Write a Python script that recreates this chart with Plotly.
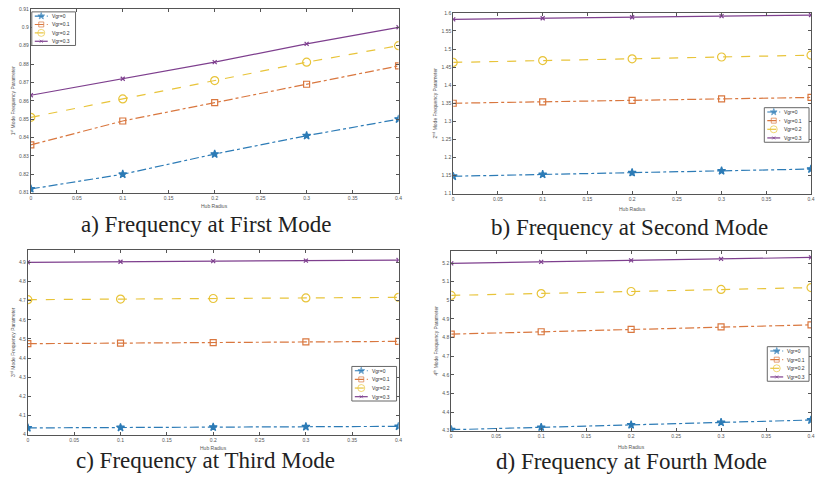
import plotly.graph_objects as go

hub_radius = [0, 0.1, 0.2, 0.3, 0.4]
series_names = ["Vgr=0", "Vgr=0.1", "Vgr=0.2", "Vgr=0.3"]

mode1 = [
    [0.812, 0.820, 0.831, 0.841, 0.850],
    [0.836, 0.849, 0.859, 0.869, 0.879],
    [0.851, 0.861, 0.871, 0.881, 0.890],
    [0.863, 0.872, 0.881, 0.891, 0.900],
]
mode2 = [
    [1.148, 1.153, 1.158, 1.163, 1.168],
    [1.350, 1.354, 1.358, 1.362, 1.366],
    [1.463, 1.468, 1.473, 1.478, 1.483],
    [1.582, 1.585, 1.588, 1.591, 1.594],
]
mode3 = [
    [4.035, 4.037, 4.039, 4.041, 4.043],
    [4.475, 4.478, 4.481, 4.484, 4.487],
    [4.705, 4.708, 4.711, 4.714, 4.717],
    [4.900, 4.903, 4.906, 4.909, 4.912],
]
mode4 = [
    [4.305, 4.318, 4.331, 4.344, 4.357],
    [4.818, 4.831, 4.844, 4.857, 4.868],
    [5.026, 5.036, 5.047, 5.058, 5.068],
    [5.198, 5.206, 5.214, 5.222, 5.230],
]
captions = ["a) Frequency at First Mode", "b) Frequency at Second Mode",
            "c) Frequency at Third Mode", "d) Frequency at Fourth Mode"]
y_titles = ["1<sup>st</sup> Mode Frequency Parameter", "2<sup>nd</sup> Mode Frequency Parameter",
            "3<sup>rd</sup> Mode Frequency Parameter", "4<sup>th</sup> Mode Frequency Parameter"]
x_title = "Hub Radius"

colors = ["#2c7bb6", "#d9773f", "#e8c43a", "#7e3f8e"]
dashes = ["dashdot", "dashdot", "dash", "solid"]
symbols = ["star", "square-open", "circle-open", "x-thin-open"]
msizes = [6, 6, 8, 4]

W, H = 818, 485
# panel geometry in pixels: (left, right, top, bottom)
panels = [
    (30, 400, 6, 192),
    (455, 815, 10, 193),
    (27, 400, 250, 437),
    (453, 815, 251, 433),
]
y_ranges = [[0.81, 0.91], [1.1, 1.6], [4.0, 4.965], [4.3, 5.265]]
y_dticks = [0.01, 0.05, 0.1, 0.1]
# legend boxes in pixels: (left, top, right, bottom)
legend_boxes = [(31, 9, 75, 43), (768, 106, 813, 141), (353, 368, 398, 403), (771, 348, 813, 383)]
caption_pos = [(206, 224), (632, 227), (206, 463), (634, 464)]
xtitle_y = [206, 209, 451, 450]

all_modes = [mode1, mode2, mode3, mode4]

fig = go.Figure()
layout = dict(
    width=W, height=H,
    margin=dict(l=0, r=0, t=0, b=0),
    paper_bgcolor="white", plot_bgcolor="rgba(0,0,0,0)",
    font=dict(family="Liberation Sans", size=5, color="#444"),
    showlegend=False,
    annotations=[], shapes=[],
)

for p, mode in enumerate(all_modes):
    idx = "" if p == 0 else str(p + 1)
    xa, ya = "x" + idx, "y" + idx
    for s in range(4):
        fig.add_trace(go.Scatter(
            x=hub_radius, y=mode[s], name=series_names[s],
            xaxis=xa, yaxis=ya,
            mode="lines+markers",
            line=dict(color=colors[s], width=1.2, dash=dashes[s]),
            marker=dict(symbol=symbols[s], size=msizes[s], color=colors[s],
                        line=dict(color=colors[s], width=1.2)),
        ))
    l, r, t, b = panels[p]
    layout["xaxis" + idx] = dict(
        domain=[l / W, r / W], anchor=ya, range=[0, 0.4], dtick=0.05,
        showgrid=False, zeroline=False, showline=True, linecolor="#555",
        linewidth=1, mirror="ticks", ticks="inside", ticklen=3,
        tickcolor="#555", tickfont=dict(size=5, color="#555"),
    )
    layout["yaxis" + idx] = dict(
        domain=[1 - b / H, 1 - t / H], anchor=xa, range=y_ranges[p],
        dtick=y_dticks[p], showgrid=False, zeroline=False, showline=True,
        linecolor="#555", linewidth=1, mirror="ticks", ticks="inside",
        ticklen=3, tickcolor="#555", tickfont=dict(size=5, color="#555"),
        title=dict(text=y_titles[p], font=dict(size=5, color="#555"), standoff=3),
    )
    cx, cy = caption_pos[p]
    layout["annotations"].append(dict(
        text=captions[p], x=cx / W, y=1 - cy / H, xref="paper", yref="paper",
        showarrow=False, xanchor="center", yanchor="middle",
        font=dict(family="Liberation Serif", size=23, color="#222"),
    ))
    layout["annotations"].append(dict(
        text=x_title, x=((l + r) / 2) / W, y=1 - xtitle_y[p] / H,
        xref="paper", yref="paper", showarrow=False,
        xanchor="center", yanchor="middle",
        font=dict(size=5, color="#555"),
    ))

    # compact MATLAB-style legend drawn on a full-figure overlay axis (pixel units)
    bl, bt, br, bb = legend_boxes[p]
    layout["shapes"].append(dict(
        type="rect", xref="x5", yref="y5", x0=bl, x1=br, y0=bt, y1=bb,
        line=dict(color="#666", width=1), fillcolor="white", layer="below",
    ))
    step = (bb - bt) / 4
    for s in range(4):
        yy = bt + step * (s + 0.5)
        x0, x1 = bl + 3, bl + 16
        fig.add_trace(go.Scatter(
            x=[x0, (x0 + x1) / 2, x1], y=[yy, yy, yy], xaxis="x5", yaxis="y5",
            mode="lines+markers", hoverinfo="skip",
            line=dict(color=colors[s], width=1.2, dash=dashes[s]),
            marker=dict(symbol=symbols[s], size=[0, msizes[s] - 1, 0], color=colors[s],
                        line=dict(color=colors[s], width=1)),
        ))
        layout["annotations"].append(dict(
            text=series_names[s], x=x1 + 2, y=yy, xref="x5", yref="y5",
            showarrow=False, xanchor="left", yanchor="middle",
            font=dict(size=5, color="#333"),
        ))

layout["xaxis5"] = dict(domain=[0, 1], range=[0, W], visible=False, anchor="y5", fixedrange=True)
layout["yaxis5"] = dict(domain=[0, 1], range=[H, 0], visible=False, anchor="x5", fixedrange=True)

fig.update_layout(**layout)
fig.write_html("out.html", config={"displayModeBar": False},
               post_script="document.body.style.margin='0';")
